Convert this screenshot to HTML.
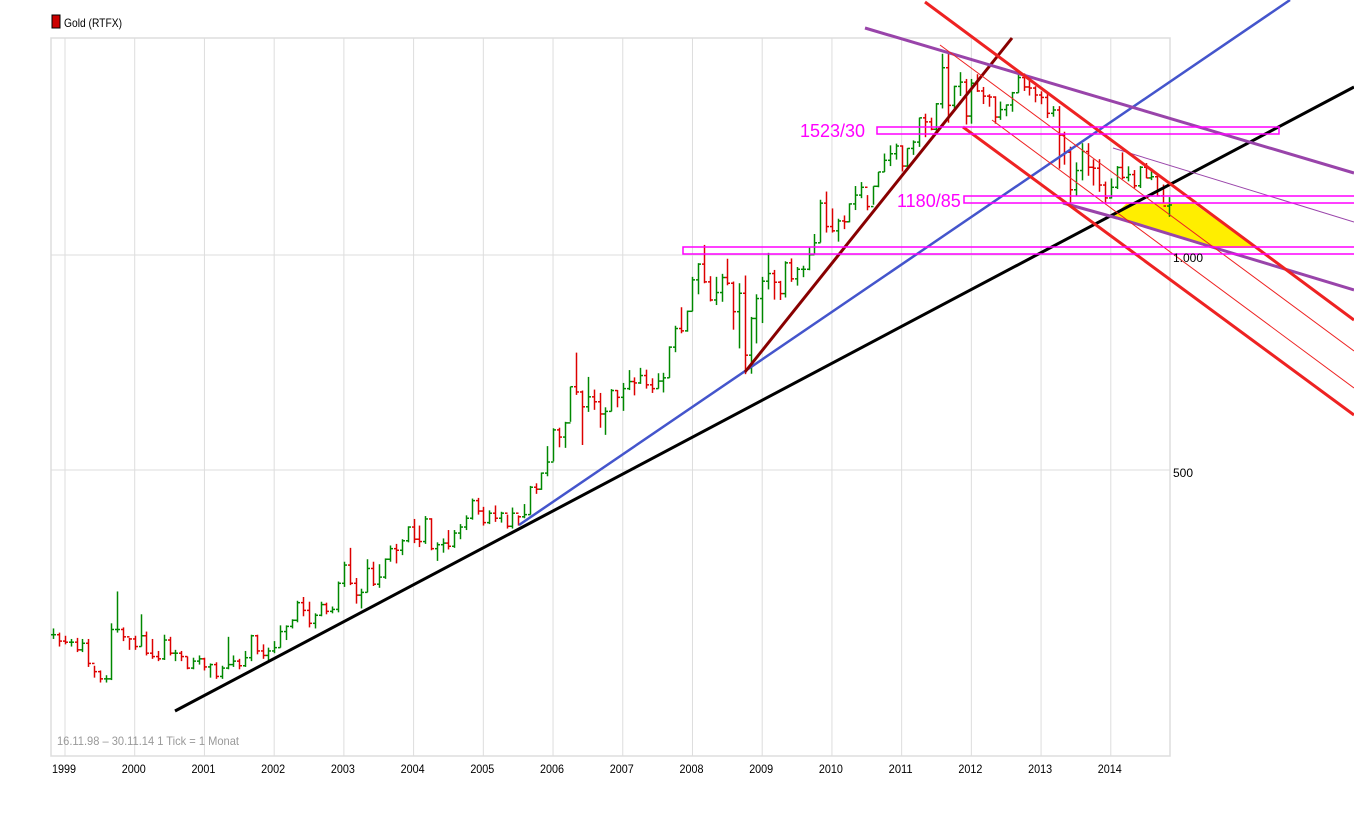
<!DOCTYPE html>
<html><head><meta charset="utf-8"><style>
body{margin:0;background:#fff;}
svg{display:block;font-family:"Liberation Sans",sans-serif;}
</style></head><body>
<svg id="c" width="1354" height="831" viewBox="0 0 1354 831" xmlns="http://www.w3.org/2000/svg">
<rect x="52" y="15" width="8" height="13" fill="#cc0000" stroke="#000" stroke-width="1"/>
<text x="64" y="27" font-size="12" textLength="58" lengthAdjust="spacingAndGlyphs">Gold (RTFX)</text>
<g id="grid"></g>
<polygon points="1127,203 1193,203 1256,248 1210,248 1113,216" fill="#ffee00"/>
<g id="bars"></g>
<g id="draw">
<line x1="175" y1="711" x2="1354" y2="87" stroke="#000" stroke-width="3"/>
<line x1="519" y1="525" x2="1290" y2="0" stroke="#4455cc" stroke-width="2.5"/>
<line x1="745" y1="372" x2="1012" y2="38" stroke="#880000" stroke-width="3"/>
<line x1="865" y1="28" x2="1354" y2="173" stroke="#9944aa" stroke-width="3"/>
<polyline points="1063,203 1117,218 1212,247 1354,290" fill="none" stroke="#9944aa" stroke-width="3"/>
<line x1="1113" y1="148" x2="1354" y2="222" stroke="#9944aa" stroke-width="1"/>
<line x1="925" y1="2" x2="1354" y2="320" stroke="#ee2222" stroke-width="3"/>
<line x1="963" y1="127" x2="1354" y2="415" stroke="#ee2222" stroke-width="3"/>
<line x1="940" y1="45" x2="1354" y2="351" stroke="#ee2222" stroke-width="1"/>
<line x1="992" y1="120" x2="1354" y2="388" stroke="#ee2222" stroke-width="1"/>
<rect x="877" y="127" width="402" height="7" fill="none" stroke="#ff00ff" stroke-width="1.5"/>
<text x="800" y="137" font-size="18" fill="#ff00ff">1523/30</text>
<rect x="964" y="196" width="400" height="7" fill="none" stroke="#ff00ff" stroke-width="1.5"/>
<text x="897" y="207" font-size="18" fill="#ff00ff">1180/85</text>
<rect x="683" y="247" width="690" height="7" fill="none" stroke="#ff00ff" stroke-width="1.5"/>
</g>
<g id="axes"></g>
<text x="57" y="745" font-size="12" fill="#999" textLength="182" lengthAdjust="spacingAndGlyphs">16.11.98 – 30.11.14   1 Tick = 1 Monat</text>
</svg>
<script>
const closes=[294,288,
287,287,280,286,268,261,255,255,299,299,292,290,
283,293,277,274,272,289,277,277,274,264,270,272,
265,267,257,264,267,270,266,273,293,279,275,279,
282,297,302,308,326,318,305,313,324,317,319,347,
368,347,334,337,364,346,354,375,388,386,398,416,
400,397,427,388,393,395,391,408,416,428,453,438,
422,435,428,435,417,435,430,433,473,470,495,513,
569,556,582,654,643,613,633,623,599,604,646,632,
650,665,662,678,658,650,666,673,743,789,783,834,
923,971,917,865,886,930,913,833,884,724,815,869,
919,942,916,883,975,926,955,955,1001,1040,1182,1096,
1081,1116,1113,1179,1213,1244,1169,1248,1307,1357,1386,1421,
1332,1410,1439,1556,1536,1500,1628,1829,1620,1722,1746,1565,
1740,1697,1669,1664,1560,1598,1622,1687,1772,1719,1713,1675,
1662,1579,1596,1472,1393,1234,1313,1396,1327,1323,1253,1202,
1244,1326,1284,1296,1250,1327,1282,1287,1210,1171,1175];
const highs=[300,296,
293,290,291,290,290,266,262,258,305,338,301,291,
293,314,297,290,279,294,292,280,279,274,273,275,
273,268,269,266,292,275,272,279,294,294,285,282,
288,303,303,309,328,332,327,315,327,326,322,349,
372,389,353,341,375,372,369,376,392,394,400,417,
427,418,431,428,396,401,412,412,420,432,456,457,
444,439,446,437,433,443,432,448,475,479,496,540,
572,573,584,654,730,646,675,648,641,612,649,647,
662,690,674,695,691,672,683,684,745,796,845,836,
932,974,1033,934,932,941,988,918,913,936,819,881,
932,1007,953,920,980,989,962,966,1024,1070,1195,1227,
1162,1124,1136,1181,1249,1265,1213,1248,1307,1387,1424,1432,
1424,1411,1447,1557,1577,1557,1632,1913,1921,1726,1803,1764,
1764,1791,1719,1679,1668,1640,1625,1692,1790,1796,1754,1723,
1695,1684,1616,1616,1488,1418,1348,1434,1434,1361,1362,1267,
1280,1332,1392,1331,1315,1332,1345,1322,1292,1255,1205];
const lows=[290,283,
285,283,278,278,265,256,252,252,254,296,288,280,
280,283,275,272,270,271,275,270,270,263,263,267,
262,256,255,255,263,265,263,265,270,276,272,271,
277,282,289,300,306,312,301,300,312,314,315,316,
343,345,325,320,337,344,342,352,372,370,380,396,
395,390,394,386,373,383,387,389,400,412,426,433,
418,420,423,422,414,414,418,428,433,463,469,490,
514,538,537,584,637,542,603,607,573,560,604,612,
605,647,636,660,650,641,650,642,673,731,777,781,
834,881,913,861,851,860,907,786,740,681,682,752,
803,895,866,865,872,917,906,931,952,1003,1041,1075,
1075,1044,1087,1111,1156,1201,1155,1176,1244,1307,1332,1360,
1309,1330,1381,1417,1462,1495,1481,1604,1532,1604,1670,1523,
1527,1692,1627,1613,1527,1546,1564,1587,1687,1697,1672,1636,
1626,1555,1562,1321,1338,1180,1208,1272,1291,1251,1226,1182,
1200,1237,1277,1268,1240,1241,1281,1273,1207,1183,1131];
const yearLabels=["1999","2000","2001","2002","2003","2004","2005","2006","2007","2008","2009","2010","2011","2012","2013","2014"];
const yTickValues=[1000,500];
const yTickLabels=["1.000","500"];

const NS="http://www.w3.org/2000/svg";
function xM(i){return 65+5.81*(i-2);}
function yV(v){return 255-215*Math.log2(v/1000);}
function mk(tag,attrs,parent){const e=document.createElementNS(NS,tag);for(const k in attrs)e.setAttribute(k,attrs[k]);parent.appendChild(e);return e;}

const grid=document.getElementById('grid');
const axes=document.getElementById('axes');
const L=51,R=1170,T=38,B=756;
let f=mk('rect',{x:L,y:T,width:R-L,height:B-T,fill:'none',stroke:'#ddd','stroke-width':1.5},grid);


yearLabels.forEach((lab,k)=>{
  const x=xM(2+12*k);
  const g=mk('line',{x1:x,y1:T,x2:x,y2:B,stroke:'#ddd','stroke-width':1},grid);
  
  
  const t=mk('text',{x:x-13,y:773,'font-size':12,textLength:24,lengthAdjust:'spacingAndGlyphs'},axes);
  t.textContent=lab;
  
  
});
yTickValues.forEach((v,k)=>{
  const y=yV(v);
  const g=mk('line',{x1:L,y1:y,x2:R,y2:y,stroke:'#ddd','stroke-width':1},grid);
  
  
  const t=mk('text',{x:1173,y:y+7,'font-size':12},axes);
  t.textContent=yTickLabels[k];
  
  
});

const bars=document.getElementById('bars');
closes.forEach((c,i)=>{
  const o=i>0?closes[i-1]:c;
  const col=c>=o?'#008800':'#dd0000';
  const x=Math.round(xM(i))+0.5;
  const g=mk('g',{stroke:col,'stroke-width':1.5},bars);
  
  
  mk('line',{x1:x,y1:yV(highs[i]),x2:x,y2:yV(lows[i])},g);
  mk('line',{x1:x-2.5,y1:yV(o),x2:x,y2:yV(o)},g);
  mk('line',{x1:x,y1:yV(c),x2:x+2.5,y2:yV(c)},g);
});
</script>
</body></html>
